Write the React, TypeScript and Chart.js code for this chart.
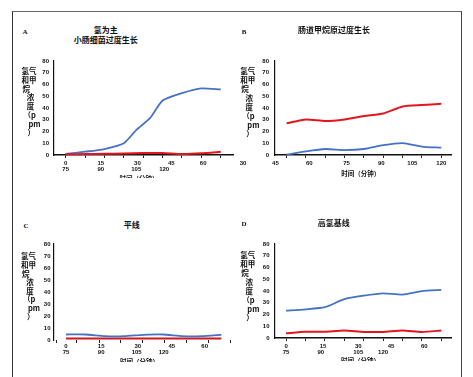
import React, { useEffect, useRef } from "react";
import { Chart, registerables } from "chart.js";
Chart.register(...registerables);

// ---------------- data ----------------
const idx9 = [0, 1, 2, 3, 4, 5, 6, 7, 8];

// Panel A
const aBlueX = [0, 1, 2, 3, 3.65, 4.35, 5, 6, 7, 8];
const aBlueY = [1, 2.8, 5.1, 10, 21.4, 31.3, 46.4, 52.7, 56.7, 55.8];
const aRedX = idx9;
const aRedY = [0.6, 0.8, 1, 1.2, 1.7, 1.7, 0.8, 1.4, 2.8];

// Panel B
const bBlueY = [0.3, 3.1, 5.1, 4.2, 5.1, 8.4, 10.1, 7.2, 6.2];
const bRedY = [27, 30.3, 28.9, 30.3, 33.2, 35.3, 41.3, 42.5, 43.6];

// Panel C
const cBlueY = [4.6, 4.6, 3.2, 3.2, 4.3, 4.6, 3.2, 3.2, 4.3];
const cRedY = [1.3, 1.3, 1.3, 1.3, 1.3, 1.3, 1.3, 1.3, 1.3];

// Panel D
const dBlueY = [23.3, 24.4, 26.2, 33, 36, 38, 37, 39.9, 41];
const dRedY = [4, 5.3, 5.4, 6.4, 5.2, 5.2, 6.4, 5.2, 6.4];

// tick labels
const minutesRow1 = ["0", "15", "30", "45", "60"];
const minutesRow2 = ["75", "90", "105", "120"];
const bRow1 = ["45", "60", "75", "90", "105", "120"];

const aRow1At = [0, 1.81, 3.7, 5.45, 7.09];
const aRow2At = [0, 1.81, 3.64, 5.08];
const bRow1At = [-0.58, 1.17, 3.1, 4.9, 6.5, 8.0];
const cRow1At = [0, 1.81, 3.7, 5.45, 7.14];
const cRow2At = [0, 1.81, 3.64, 5.03];
const dRow1At = [0, 1.91, 3.72, 5.41, 7.12];
const dRow2At = [0, 1.79, 3.72, 5.0];

const abdMarks = idx9;
const cMarks = [-0.5, 0.56, 1.7, 2.83, 3.95, 5.07, 6.21, 7.33, 8.46];

const yTitleLines = ["氢气", "和甲", "烷", "浓", "度", "（p", "pm", "）"];

// ---------------- styles ----------------
const BLUE = "#4472c4";
const RED = "#e3161f";
const CJK = "'Noto Sans CJK SC', 'Noto Sans', sans-serif";

type Geom = {
  cl: number; ct: number; left: number; right: number; top: number; bottom: number;
  padR: number; xmin: number; xmax: number; marksH: number; row1H: number; row2H: number;
  yPad: number; xBorder: boolean;
};

type Series = { xs: number[]; ys: number[]; color: string; width: number };

function Panel(props: {
  g: Geom; series: Series[]; marks: number[];
  row1: string[]; row1At: number[]; row2?: string[]; row2At?: number[];
}) {
  const { g, series, marks, row1, row1At, row2, row2At } = props;
  const ref = useRef<HTMLCanvasElement>(null);
  const W = g.right + g.padR - g.cl;
  const H = g.bottom + g.marksH + g.row1H + (row2 ? g.row2H : 0) - g.ct;

  useEffect(() => {
    if (!ref.current) return;
    const tickFont = { family: "'Liberation Sans', Arial, sans-serif", size: 6, weight: "bold" as const };
    const labelAxis = (labels: string[], at: number[], weight: number, h: number) => ({
      type: "linear",
      position: "bottom",
      display: true,
      min: g.xmin,
      max: g.xmax,
      bounds: "data",
      weight,
      grid: { display: false, drawTicks: false },
      border: { display: false },
      ticks: {
        display: true,
        autoSkip: false,
        maxRotation: 0,
        minRotation: 0,
        padding: 0,
        font: tickFont,
        color: "#111",
        callback: (_v: any, i: number) => labels[i],
      },
      afterBuildTicks: (s: any) => {
        s.ticks = at.map((v) => ({ value: v }));
      },
      afterFit: (s: any) => {
        s.height = h;
      },
    });
    const scales: any = {
      y: {
        type: "linear",
        position: "left",
        min: 0,
        max: 80,
        bounds: "data",
        ticks: { stepSize: 10, font: tickFont, color: "#111", padding: g.yPad },
        grid: { display: false, drawTicks: false },
        border: { display: true, color: "#111", width: 1.2 },
        afterFit: (s: any) => {
          s.width = g.left - g.cl;
        },
      },
      x: {
        type: "linear",
        position: "bottom",
        display: true,
        min: g.xmin,
        max: g.xmax,
        bounds: "data",
        weight: 0,
        ticks: { display: false },
        grid: { display: true, drawOnChartArea: false, drawTicks: true, tickLength: 3, color: "#222", lineWidth: 1 },
        border: { display: g.xBorder, color: "#111", width: 1.5 },
        afterBuildTicks: (s: any) => {
          s.ticks = marks.map((v) => ({ value: v }));
        },
        afterFit: (s: any) => {
          s.height = g.marksH;
        },
      },
      x1: labelAxis(row1, row1At, 1, g.row1H),
    };
    if (row2 && row2At) scales.x2 = labelAxis(row2, row2At, 2, g.row2H);

    const chart = new Chart(ref.current, {
      type: "line",
      data: {
        datasets: series.map((s) => ({
          data: s.xs.map((x, i) => ({ x, y: s.ys[i] })),
          borderColor: s.color,
          backgroundColor: s.color,
          borderWidth: s.width,
          pointRadius: 0,
          tension: 0.2,
          fill: false,
          clip: false as any,
          xAxisID: "x",
          yAxisID: "y",
        })),
      },
      options: {
        responsive: false,
        animation: false,
        devicePixelRatio: 1,
        layout: { padding: { left: 0, right: g.padR, top: g.top - g.ct, bottom: 0 } },
        plugins: { legend: { display: false }, tooltip: { enabled: false }, title: { display: false } },
        scales,
      } as any,
    });
    return () => chart.destroy();
  }, []);

  return (
    <canvas
      ref={ref}
      width={W}
      height={H}
      style={{ position: "absolute", left: g.cl, top: g.ct, width: W, height: H }}
    />
  );
}

function Txt(props: { x: number; y: number; text: string; size: number; center?: boolean; family?: string; weight?: number }) {
  const { x, y, text, size, center, family, weight } = props;
  return (
    <div
      style={{
        position: "absolute",
        left: x,
        top: y - size * 0.55,
        transform: center ? "translateX(-50%)" : undefined,
        fontSize: size,
        lineHeight: `${size}px`,
        fontFamily: family || CJK,
        fontWeight: weight || 700,
        whiteSpace: "nowrap",
        color: "#111",
      }}
    >
      {text}
    </div>
  );
}

function ClippedTitle(props: { cx: number; glyphTop: number; clipBottom: number; text: string; size: number }) {
  const { cx, glyphTop, clipBottom, text, size } = props;
  return (
    <div
      style={{
        position: "absolute",
        left: cx - 40,
        width: 80,
        top: glyphTop - 0.06 * size,
        height: clipBottom - glyphTop + 0.06 * size,
        overflow: "hidden",
        textAlign: "center",
      }}
    >
      <div style={{ fontSize: size, lineHeight: `${size}px`, fontFamily: CJK, fontWeight: 700, whiteSpace: "nowrap", color: "#111" }}>
        {text}
      </div>
    </div>
  );
}

const yTitleDx = [0, 0, 1, 5.2, 5.2, 2, 7, 6];

function YTitle(props: { x: number; y: number; step: number }) {
  return (
    <>
      {yTitleLines.map((t, i) => (
        <Txt key={i} x={props.x + yTitleDx[i]} y={props.y + i * props.step} text={t} size={7.5} />
      ))}
    </>
  );
}

const SERIF = "'Liberation Serif', 'DejaVu Serif', serif";

export default function App() {
  const gA: Geom = { cl: 10, ct: 50, left: 54, right: 233, top: 61, bottom: 155, padR: 8, xmin: -0.6, xmax: 8.63, marksH: 5, row1H: 6, row2H: 10, yPad: 5, xBorder: true };
  const gB: Geom = { cl: 233, ct: 50, left: 275, right: 451, top: 61, bottom: 155, padR: 8, xmin: -0.6, xmax: 8.5, marksH: 5, row1H: 10, row2H: 0, yPad: 6, xBorder: true };
  const gC: Geom = { cl: 10, ct: 233, left: 54, right: 233, top: 244, bottom: 340, padR: 8, xmin: -0.62, xmax: 8.6, marksH: 3, row1H: 6, row2H: 10, yPad: 3.5, xBorder: false };
  const gD: Geom = { cl: 233, ct: 233, left: 275, right: 451, top: 244, bottom: 338, padR: 8, xmin: -0.57, xmax: 8.5, marksH: 5, row1H: 6, row2H: 10, yPad: 5.5, xBorder: true };

  return (
    <div style={{ position: "absolute", left: 0, top: 0, width: 473, height: 377, background: "#fff", overflow: "hidden" }}>
      {/* outer frame */}
      <div
        style={{
          position: "absolute",
          left: 12,
          top: 11,
          width: 448,
          height: 380,
          borderLeft: "1px solid #333",
          borderTop: "1px solid #666",
          borderRight: "1px solid #444",
        }}
      />

      <Panel
        g={gA}
        series={[
          { xs: aRedX, ys: aRedY, color: RED, width: 2 },
          { xs: aBlueX, ys: aBlueY, color: BLUE, width: 1.8 },
        ]}
        marks={abdMarks}
        row1={minutesRow1}
        row1At={aRow1At}
        row2={minutesRow2}
        row2At={aRow2At}
      />
      <Panel
        g={gB}
        series={[
          { xs: idx9, ys: bRedY, color: RED, width: 2 },
          { xs: idx9, ys: bBlueY, color: BLUE, width: 1.8 },
        ]}
        marks={abdMarks}
        row1={bRow1}
        row1At={bRow1At}
      />
      <Panel
        g={gC}
        series={[
          { xs: idx9, ys: cBlueY, color: BLUE, width: 1.8 },
          { xs: idx9, ys: cRedY, color: "#d0161f", width: 2 },
        ]}
        marks={cMarks}
        row1={minutesRow1}
        row1At={cRow1At}
        row2={minutesRow2}
        row2At={cRow2At}
      />
      <Panel
        g={gD}
        series={[
          { xs: idx9, ys: dBlueY, color: BLUE, width: 1.8 },
          { xs: idx9, ys: dRedY, color: RED, width: 2 },
        ]}
        marks={abdMarks}
        row1={minutesRow1}
        row1At={dRow1At}
        row2={minutesRow2}
        row2At={dRow2At}
      />

      {/* panel letters */}
      <Txt x={25} y={33} text="A" size={7} center family={SERIF} />
      <Txt x={244} y={32.5} text="B" size={7} center family={SERIF} />
      <Txt x={26} y={226.5} text="C" size={7} center family={SERIF} />
      <Txt x={244} y={225} text="D" size={7} center family={SERIF} />

      {/* titles */}
      <Txt x={105.8} y={30.7} text="氢为主" size={8} center />
      <Txt x={105.8} y={40.7} text="小肠细菌过度生长" size={8} center />
      <Txt x={334} y={30} text="肠道甲烷原过度生长" size={8} center />
      <Txt x={131.7} y={225} text="平线" size={8} center />
      <Txt x={333.8} y={223.3} text="高氢基线" size={8} center />

      {/* y axis titles */}
      <YTitle x={21.5} y={71} step={8.85} />
      <YTitle x={240.3} y={71} step={9} />
      <YTitle x={21} y={256.5} step={8.6} />
      <YTitle x={240.3} y={255.5} step={8.9} />

      {/* x axis titles */}
      <ClippedTitle cx={139} glyphTop={175} clipBottom={178.5} text="时间（分钟）" size={6.5} />
      <Txt x={360.7} y={173.3} text="时间（分钟）" size={6.5} center />
      <ClippedTitle cx={139.5} glyphTop={358.3} clipBottom={361.7} text="时间（分钟）" size={6.5} />
      <ClippedTitle cx={360.5} glyphTop={357.3} clipBottom={360.7} text="时间（分钟）" size={6.5} />

      {/* stray label */}
      <Txt x={243} y={163.3} text="30" size={6} center family="'Liberation Sans', Arial, sans-serif" />
    </div>
  );
}
